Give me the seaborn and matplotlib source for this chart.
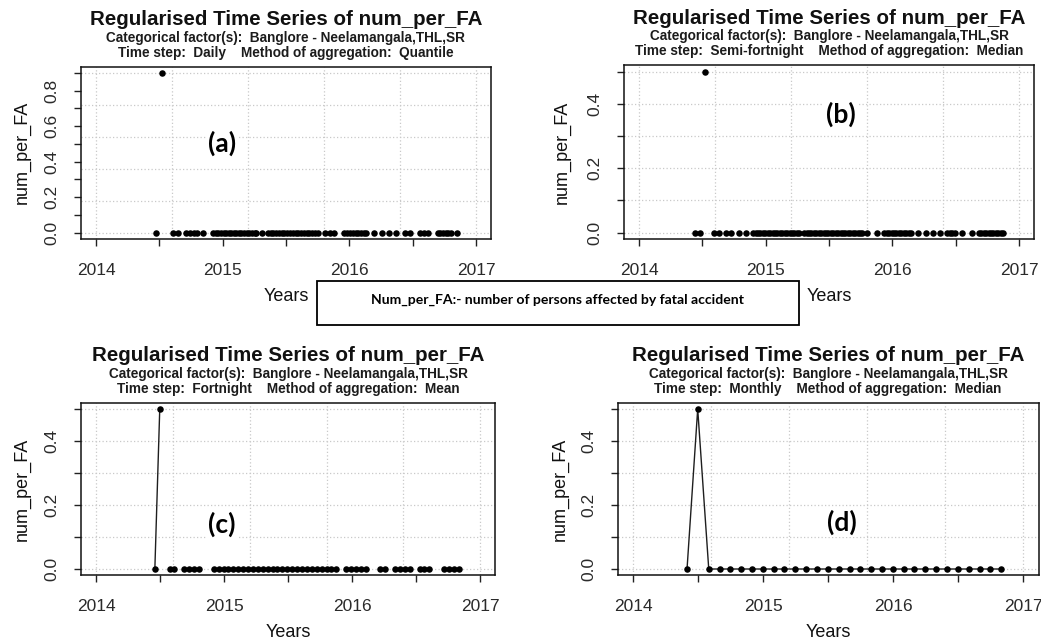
import numpy as np
import pandas as pd
import matplotlib
matplotlib.use("Agg")
import matplotlib.pyplot as plt
import seaborn as sns
from matplotlib.ticker import FixedLocator, FormatStrFormatter
from matplotlib.patches import Rectangle

# ---------------------------------------------------------------------------
# Data: regularised series of num_per_FA (Banglore - Neelamangala, THL, SR)
# ---------------------------------------------------------------------------

# (a) daily series, quantile aggregation
daily_dates = [
    "2014-06-22", "2014-07-10",
    "2014-08-11", "2014-08-26", "2014-09-16", "2014-09-28", "2014-10-09",
    "2014-10-19", "2014-11-05",
    "2014-12-04", "2014-12-12", "2014-12-19", "2014-12-27", "2015-01-04",
    "2015-01-11", "2015-01-18", "2015-01-25", "2015-02-02", "2015-02-09",
    "2015-02-16", "2015-02-24", "2015-03-03", "2015-03-11", "2015-03-19",
    "2015-03-27", "2015-04-03", "2015-04-08",
    "2015-04-25",
    "2015-05-11", "2015-05-19", "2015-05-27", "2015-06-04", "2015-06-12",
    "2015-06-20", "2015-06-28", "2015-07-06", "2015-07-14", "2015-07-22",
    "2015-07-30", "2015-08-07", "2015-08-15", "2015-08-23", "2015-08-31",
    "2015-09-08", "2015-09-16", "2015-09-24", "2015-10-03",
    "2015-10-22", "2015-11-05", "2015-11-19",
    "2015-12-18", "2015-12-26", "2016-01-03", "2016-01-11", "2016-01-19",
    "2016-01-27", "2016-02-04", "2016-02-12", "2016-02-19",
    "2016-03-11", "2016-04-05", "2016-04-26", "2016-05-16", "2016-06-09",
    "2016-06-23", "2016-07-22", "2016-08-03", "2016-08-15",
    "2016-09-12", "2016-09-19", "2016-09-27", "2016-10-05", "2016-10-13",
    "2016-10-21", "2016-11-08",
]
daily_values = [
    0.0, 0.9,
    0.0, 0.0, 0.0, 0.0, 0.0, 0.0, 0.0,
    0.0, 0.0, 0.0, 0.0, 0.0, 0.0, 0.0, 0.0, 0.0, 0.0,
    0.0, 0.0, 0.0, 0.0, 0.0, 0.0, 0.0, 0.0,
    0.0,
    0.0, 0.0, 0.0, 0.0, 0.0, 0.0, 0.0, 0.0, 0.0, 0.0,
    0.0, 0.0, 0.0, 0.0, 0.0, 0.0, 0.0, 0.0, 0.0,
    0.0, 0.0, 0.0,
    0.0, 0.0, 0.0, 0.0, 0.0, 0.0, 0.0, 0.0, 0.0,
    0.0, 0.0, 0.0, 0.0, 0.0, 0.0, 0.0, 0.0, 0.0,
    0.0, 0.0, 0.0, 0.0, 0.0, 0.0, 0.0,
]

# (b) semi-fortnight (weekly) series, median aggregation
semi_dates = [
    "2014-06-11", "2014-06-25", "2014-07-09", "2014-08-06", "2014-08-20",
    "2014-09-10", "2014-09-24", "2014-10-15", "2014-11-05",
    "2014-11-26", "2014-12-03", "2014-12-10", "2014-12-17", "2014-12-24",
    "2014-12-31", "2015-01-07", "2015-01-14", "2015-01-21", "2015-01-28",
    "2015-02-04", "2015-02-11", "2015-02-18", "2015-02-25", "2015-03-04",
    "2015-03-11", "2015-03-18", "2015-03-25", "2015-04-01", "2015-04-08",
    "2015-04-22", "2015-04-29", "2015-05-06", "2015-05-13", "2015-05-20",
    "2015-05-27", "2015-06-03", "2015-06-10", "2015-06-17", "2015-06-24",
    "2015-07-01", "2015-07-08", "2015-07-15", "2015-07-22", "2015-07-29",
    "2015-08-05", "2015-08-12", "2015-08-19", "2015-08-26", "2015-09-02",
    "2015-09-09", "2015-09-16", "2015-09-23", "2015-09-30", "2015-10-07",
    "2015-10-21", "2015-11-18",
    "2015-12-09", "2015-12-16", "2015-12-23", "2015-12-30", "2016-01-06",
    "2016-01-13", "2016-01-20", "2016-01-27", "2016-02-03", "2016-02-10",
    "2016-02-17", "2016-02-24",
    "2016-03-16", "2016-04-06", "2016-04-27", "2016-05-18",
    "2016-06-08", "2016-06-15", "2016-06-22", "2016-06-29",
    "2016-07-20", "2016-08-17",
    "2016-09-07", "2016-09-14", "2016-09-21", "2016-09-28", "2016-10-05",
    "2016-10-12", "2016-10-19", "2016-10-26", "2016-11-02", "2016-11-09",
    "2016-11-16",
]
semi_values = [
    0.0, 0.0, 0.5, 0.0, 0.0,
    0.0, 0.0, 0.0, 0.0,
    0.0, 0.0, 0.0, 0.0, 0.0, 0.0, 0.0, 0.0, 0.0, 0.0,
    0.0, 0.0, 0.0, 0.0, 0.0, 0.0, 0.0, 0.0, 0.0, 0.0,
    0.0, 0.0, 0.0, 0.0, 0.0, 0.0, 0.0, 0.0, 0.0, 0.0,
    0.0, 0.0, 0.0, 0.0, 0.0, 0.0, 0.0, 0.0, 0.0, 0.0,
    0.0, 0.0, 0.0, 0.0, 0.0,
    0.0, 0.0,
    0.0, 0.0, 0.0, 0.0, 0.0, 0.0, 0.0, 0.0, 0.0, 0.0,
    0.0, 0.0,
    0.0, 0.0, 0.0, 0.0,
    0.0, 0.0, 0.0, 0.0,
    0.0, 0.0,
    0.0, 0.0, 0.0, 0.0, 0.0, 0.0, 0.0, 0.0, 0.0, 0.0,
    0.0,
]

# (c) fortnightly series, mean aggregation (NaN = no observation)
fortnight_start = "2014-06-17"
nan = np.nan
fortnight_values = [
    0.0, 0.5, nan, 0.0, 0.0, nan, 0.0, 0.0, 0.0, 0.0, nan, nan,
    0.0, 0.0, 0.0, 0.0, 0.0, 0.0, 0.0, 0.0, 0.0, 0.0, 0.0, 0.0, 0.0,
    0.0, 0.0, 0.0, 0.0, 0.0, 0.0, 0.0, 0.0, 0.0, 0.0, 0.0, 0.0, 0.0,
    nan, 0.0, 0.0, 0.0, 0.0, 0.0, nan, nan, 0.0, 0.0, nan,
    0.0, 0.0, 0.0, 0.0, nan, 0.0, 0.0, 0.0, nan, nan,
    0.0, 0.0, 0.0, 0.0,
]

# (d) monthly series, median aggregation
monthly_start = "2014-06-01"
monthly_values = [
    0.0, 0.5,
    0.0, 0.0, 0.0, 0.0, 0.0, 0.0, 0.0, 0.0, 0.0, 0.0, 0.0, 0.0, 0.0, 0.0,
    0.0, 0.0, 0.0, 0.0, 0.0, 0.0, 0.0, 0.0, 0.0, 0.0, 0.0, 0.0, 0.0, 0.0,
]

title_text = "Regularised Time Series of num_per_FA"
factor_text = "Categorical factor(s):  Banglore - Neelamangala,THL,SR"
year_ticks = [2014, 2015, 2016, 2017]
half_year_ticks = [2014.5, 2015.5, 2016.5]
note_text = "Num_per_FA:- number of persons affected by fatal accident"

# ---------------------------------------------------------------------------
sns.set_theme(style="white")
plt.rcParams["font.family"] = ["Liberation Sans", "DejaVu Sans"]

W, H = 1041, 641
fig = plt.figure(figsize=(W / 100, H / 100), dpi=100)
fig.patch.set_facecolor("white")


def dec_year(dates):
    d = pd.DatetimeIndex(pd.to_datetime(dates))
    days = np.where(d.is_leap_year, 366, 365)
    return (d.year + (d.dayofyear - 1) / days).to_numpy(dtype=float)


def make_frame(dates, values):
    df = pd.DataFrame({"year": dec_year(dates), "value": np.asarray(values, float)})
    df["run"] = df["value"].isna().cumsum()
    return df.dropna().reset_index(drop=True)


def px(x, y):
    return x / W, 1 - y / H


def panel(box, df, ymax, ygrid, step, method, tag, tag_xy, ylab_x, connect):
    l, r, t, b = box
    ax = fig.add_axes([l / W, 1 - b / H, (r - l) / W, (b - t) / H])
    ax.set_facecolor("white")

    # dotted reference grid
    for gx in np.linspace(2014, 2017, 6):
        ax.axvline(gx, color="#c9c9c9", lw=0.9, ls=(0, (1, 1.8)), zorder=0)
    for gy in ygrid:
        ax.axhline(gy, color="#c9c9c9", lw=0.9, ls=(0, (1, 1.8)), zorder=0)

    if connect:
        sns.lineplot(data=df, x="year", y="value", units="run", estimator=None,
                     color="#1e1e1e", lw=1.0, ax=ax, legend=False, zorder=2)
    sns.scatterplot(data=df, x="year", y="value", color="black", s=22,
                    linewidth=0, ax=ax, legend=False, zorder=3)

    ax.set_xlim(2013.88, 2017.12)
    ax.set_ylim(-0.04 * ymax, 1.04 * ymax)
    ax.set_xlabel("")
    ax.set_ylabel("")

    ax.xaxis.set_major_locator(FixedLocator(year_ticks))
    ax.xaxis.set_minor_locator(FixedLocator(half_year_ticks))
    ax.yaxis.set_major_locator(FixedLocator(np.arange(0, ymax + 1e-9, 0.2)))
    ax.yaxis.set_minor_locator(FixedLocator(np.arange(0, ymax + 1e-9, 0.1)))
    ax.yaxis.set_major_formatter(FormatStrFormatter("%.1f"))
    ax.tick_params(which="both", direction="out", length=5, width=1,
                   color="#222222", bottom=True, left=True, top=False, right=False)
    ax.tick_params(axis="x", labelsize=12.5, pad=12, labelcolor="#2a2a2a")
    ax.tick_params(axis="y", labelsize=12.5, pad=10.5, labelcolor="#2a2a2a",
                   labelrotation=90)
    for lbl in ax.get_yticklabels():
        lbl.set_va("center")
    for sp in ax.spines.values():
        sp.set_visible(True)
        sp.set_color("#111111")
        sp.set_linewidth(1.1)

    cx = (l + r) / 2
    fig.text(*px(cx, t - 47), title_text, ha="center", va="center",
             fontsize=14.8, fontweight="bold", color="#111111")
    fig.text(*px(cx, t - 29), factor_text, ha="center", va="center",
             fontsize=9.8, fontweight="bold", color="#1c1c1c")
    fig.text(*px(cx, t - 14),
             f"Time step:  {step}    Method of aggregation:  {method}",
             ha="center", va="center", fontsize=9.8, fontweight="bold",
             color="#1c1c1c")
    fig.text(*px(ylab_x, (t + b) / 2), "num_per_FA", ha="center", va="center",
             rotation=90, fontsize=13, color="#111111")
    fig.text(*px(cx, b + 57), "Years", ha="center", va="center",
             fontsize=13, color="#111111")
    fig.text(*px(*tag_xy), tag, ha="center", va="center", fontsize=19,
             fontweight="bold", family=["Lato", "DejaVu Sans"], color="black",
             zorder=5, bbox=dict(fc="white", ec="none", pad=1.5))
    return ax


panel((80.8, 491.2, 66.6, 239.1), make_frame(daily_dates, daily_values),
      0.9, np.linspace(0, 0.9, 6), "Daily", "Quantile", "(a)", (222, 143), 22,
      connect=False)
panel((623.8, 1034.2, 65.3, 239.1), make_frame(semi_dates, semi_values),
      0.5, np.linspace(0, 0.5, 6), "Semi-fortnight", "Median", "(b)", (841, 114),
      562, connect=False)
panel((81.0, 495.3, 402.6, 575.4),
      make_frame(pd.date_range(fortnight_start, periods=len(fortnight_values), freq="14D"),
                 fortnight_values),
      0.5, np.linspace(0, 0.5, 6), "Fortnight", "Mean", "(c)", (222, 524), 22,
      connect=True)
panel((617.7, 1038.6, 402.6, 575.4),
      make_frame(pd.date_range(monthly_start, periods=len(monthly_values), freq="MS"),
                 monthly_values),
      0.5, np.linspace(0, 0.5, 6), "Monthly", "Median", "(d)", (842, 522), 560,
      connect=True)

# explanatory note box between the two rows
x0, y0 = px(316.5, 325)
fig.add_artist(Rectangle((x0, y0), (799 - 316.5) / W, (325 - 281.5) / H,
                         transform=fig.transFigure, fc="white", ec="black",
                         lw=1.3, zorder=10))
fig.text(*px(557.5, 300), note_text, ha="center", va="center", fontsize=10.1,
         fontweight="bold", family=["Lato", "DejaVu Sans"], color="black",
         zorder=11)

fig.savefig("out.png", dpi=100, facecolor="white")
